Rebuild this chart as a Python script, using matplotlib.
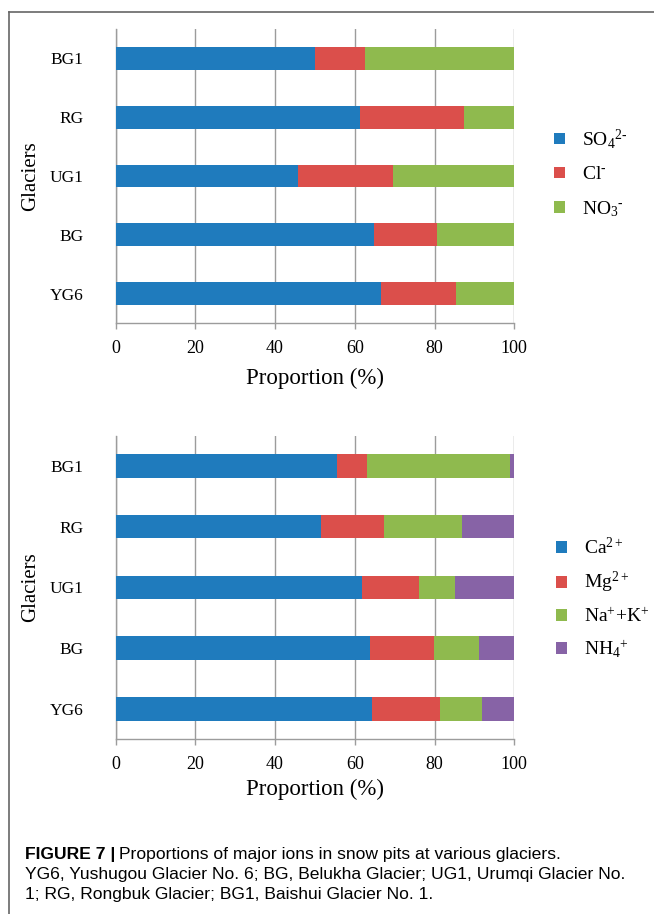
import matplotlib
matplotlib.use("Agg")
import matplotlib.pyplot as plt
from matplotlib.lines import Line2D
import numpy as np

# ---------------- DATA ---------------- #
glaciers = ["YG6", "BG", "UG1", "RG", "BG1"]

# anions (%)
so4 = [66.7, 64.8, 45.7, 61.2, 50.0]
cl = [18.6, 15.9, 23.9, 26.2, 12.5]
no3 = [14.7, 19.3, 30.4, 12.6, 37.5]
anion_labels = [r"SO$_4$$^{2\text{-}}$", r"Cl$^{\text{-}}$", r"NO$_3$$^{\text{-}}$"]

# cations (%)
ca = [64.2, 63.7, 61.9, 51.5, 55.6]
mg = [17.2, 16.1, 14.2, 15.9, 7.4]
nak = [10.5, 11.3, 9.1, 19.4, 35.8]
nh4 = [8.1, 8.9, 14.8, 13.2, 1.2]
cation_labels = [r"Ca$^{2+}$", r"Mg$^{2+}$", r"Na$^{+}$+K$^{+}$", r"NH$_4$$^{+}$"]

xticks = [0, 20, 40, 60, 80, 100]

colors = ["#1f7bbd", "#db4f4b", "#8fba4e", "#8763a6"]
grid_col = "#9c9c9c"

plt.rcParams["font.family"] = ["Liberation Serif", "DejaVu Serif"]
plt.rcParams["mathtext.fontset"] = "custom"
plt.rcParams["mathtext.rm"] = "Liberation Serif"
plt.rcParams["mathtext.it"] = "Liberation Serif:italic"
plt.rcParams["mathtext.bf"] = "Liberation Serif:bold"

W, H = 654, 914
fig = plt.figure(figsize=(W / 100, H / 100), dpi=100)


def px_axes(left, right, top, bottom):
    return fig.add_axes([left / W, 1 - bottom / H, (right - left) / W, (bottom - top) / H])


def stacked(ax, series, labels, leg_x, leg_y, leg_space, xlab_pad):
    y = np.arange(len(glaciers))
    left = np.zeros(len(glaciers))
    handles = []
    for vals, lab, col in zip(series, labels, colors):
        b = ax.barh(y, vals, left=left, height=0.39, color=col, label=lab, zorder=3)
        handles.append(b)
        left = left + np.array(vals)
    ax.set_xlim(0, 100)
    ax.set_ylim(-0.5, len(glaciers) - 0.5)
    ax.set_yticks(y)
    ax.set_yticklabels(glaciers, fontsize=12.5)
    ax.set_xticks(xticks)
    ax.set_xticklabels([str(t) for t in xticks], fontsize=13)
    ax.tick_params(axis="y", length=0, pad=23)
    ax.tick_params(axis="x", length=4, width=1, color=grid_col, pad=8)
    ax.grid(axis="x", color=grid_col, linewidth=1, zorder=0)
    for s in ["top", "right"]:
        ax.spines[s].set_visible(False)
    for s in ["left", "bottom"]:
        ax.spines[s].set_color(grid_col)
        ax.spines[s].set_linewidth(1)
    ax.set_xlabel("Proportion (%)", fontsize=16.5, labelpad=xlab_pad)
    ax.set_ylabel("Glaciers", fontsize=15, labelpad=7)
    fig.legend(handles, labels, loc="upper left", bbox_to_anchor=(leg_x / W, 1 - leg_y / H),
               frameon=False, fontsize=14, handlelength=0.55, handleheight=0.55,
               handletextpad=0.9, labelspacing=leg_space, borderaxespad=0, borderpad=0)


ax1 = px_axes(115.5, 514.3, 29, 323)
stacked(ax1, [so4, cl, no3], anion_labels, 554, 127, 0.8, 8)

ax2 = px_axes(115.5, 514.3, 435.5, 739.3)
stacked(ax2, [ca, mg, nak, nh4], cation_labels, 556, 537, 0.62, 4)

# ---------------- FRAME ---------------- #
fig.add_artist(Line2D([9 / W, 1], [1 - 12 / H, 1 - 12 / H], color="#666666", linewidth=1.2))
fig.add_artist(Line2D([9 / W, 9 / W], [0, 1 - 12 / H], color="#666666", linewidth=1.2))

# ---------------- CAPTION ---------------- #
cap_font = ["Liberation Sans Narrow", "Liberation Sans"]
cap_size = 12.6
t_bold = fig.text(25 / W, 1 - 855 / H, "FIGURE 7 |", fontsize=cap_size, fontweight="bold",
                  family=cap_font, va="center", ha="left")
fig.canvas.draw()
bb = t_bold.get_window_extent()
fig.text((bb.x1 + 4) / W, 1 - 855 / H, "Proportions of major ions in snow pits at various glaciers.",
         fontsize=cap_size, family=cap_font, va="center", ha="left")
fig.text(25 / W, 1 - 875 / H, "YG6, Yushugou Glacier No. 6; BG, Belukha Glacier; UG1, Urumqi Glacier No.",
         fontsize=cap_size, family=cap_font, va="center", ha="left")
fig.text(25 / W, 1 - 895 / H, "1; RG, Rongbuk Glacier; BG1, Baishui Glacier No. 1.",
         fontsize=cap_size, family=cap_font, va="center", ha="left")

fig.savefig("out.png", dpi=100)
